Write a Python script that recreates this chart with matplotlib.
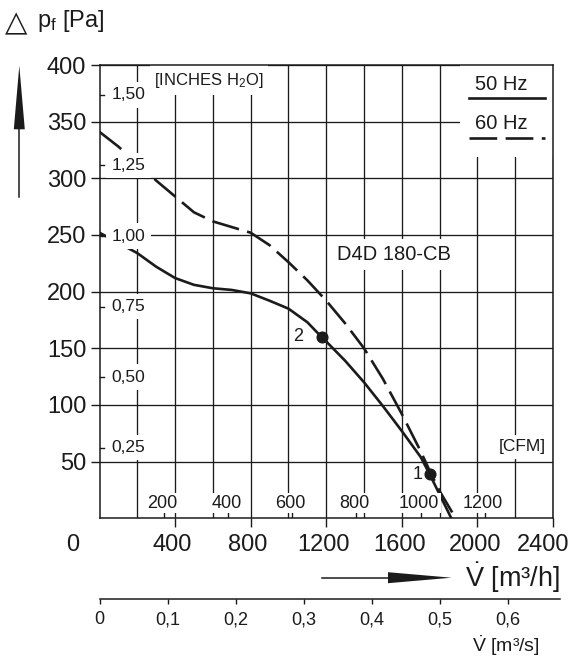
import matplotlib
matplotlib.use("Agg")
import matplotlib.pyplot as plt
import matplotlib.transforms as mtransforms
from matplotlib.patches import Rectangle, Polygon
from matplotlib.lines import Line2D

# ---------------- data ----------------
# 50 Hz characteristic (solid): volume flow [m3/h] vs pressure [Pa]
flow_50 = [0, 100, 200, 300, 400, 500, 600, 700, 800, 900, 1000, 1100,
           1175, 1200, 1300, 1400, 1500, 1600, 1700, 1747, 1800, 1862]
pres_50 = [252, 243, 234, 222, 212, 206, 203, 201.5, 198.5, 192, 185, 173,
           160, 156, 139, 120, 99, 77, 54, 39, 21, 0]
# 60 Hz characteristic (dashed)
flow_60 = [0, 100, 200, 300, 400, 500, 600, 700, 800, 900, 1000, 1100, 1200,
           1300, 1400, 1500, 1600, 1700, 1747, 1800, 1885]
pres_60 = [341, 328, 313, 298, 284, 270, 262, 257, 252, 241, 226, 210, 192,
           172, 150, 123, 92, 59, 42, 24, 0]
# operating points
point_labels = ["1", "2"]
point_flow = [1747, 1175]
point_pres = [39, 160]

flow_major = [400, 800, 1200, 1600, 2000, 2400]
flow_minor = [200, 600, 1000, 1400, 1800, 2200]
pres_ticks = [50, 100, 150, 200, 250, 300, 350, 400]
inch_ticks = [0.25, 0.50, 0.75, 1.00, 1.25, 1.50]
cfm_ticks = [200, 400, 600, 800, 1000, 1200]
m3s_ticks = [0, 0.1, 0.2, 0.3, 0.4, 0.5, 0.6]

PA_PER_INH2O = 249.089
M3H_PER_CFM = 1.69901

# ---------------- style ----------------
plt.rcParams["font.family"] = ["Liberation Sans", "DejaVu Sans"]
plt.rcParams["mathtext.fontset"] = "custom"
plt.rcParams["mathtext.rm"] = "Liberation Sans"
plt.rcParams["mathtext.it"] = "Liberation Sans:italic"
plt.rcParams["mathtext.bf"] = "Liberation Sans:bold"

INK = "#1b1b1b"
W, H = 578, 660
fig = plt.figure(figsize=(W / 100, H / 100), dpi=100)
fig.patch.set_facecolor("white")


def fx(px):
    return px / W


def fy(py):
    return 1 - py / H


AX_L, AX_R, AX_T, AX_B = 99.5, 553.0, 65.0, 518.3
AW, AH = AX_R - AX_L, AX_B - AX_T
ax = fig.add_axes([fx(AX_L), fy(AX_B), AW / W, AH / H])
ax.set_xlim(0, 2400)
ax.set_ylim(0, 400)
for s in ax.spines.values():
    s.set_linewidth(1.1)
    s.set_color(INK)
    s.set_zorder(6)

ax.set_xticks(flow_major)
ax.set_xticklabels([str(v) for v in flow_major])
ax.set_xticks(flow_minor, minor=True)
ax.set_yticks(pres_ticks)
ax.set_yticklabels([str(v) for v in pres_ticks])
ax.tick_params(which="major", direction="out", length=6.5, width=1.0,
               color=INK, labelsize=17, labelcolor=INK)
ax.tick_params(axis="x", which="major", pad=5)
ax.tick_params(axis="y", which="major", pad=3)
ax.tick_params(which="minor", length=0)
ax.grid(True, which="both", color=INK, linewidth=0.95)
ax.set_axisbelow(True)

# small leftward nudge of the flow tick labels (last one sits inside the page)
xlabels = ax.get_xticklabels()
for i, lab in enumerate(xlabels):
    shift = -10 if i == len(xlabels) - 1 else -2.5
    lab.set_transform(lab.get_transform() +
                      mtransforms.ScaledTranslation(shift / 100, 0,
                                                    fig.dpi_scale_trans))

# white blocks that interrupt the grid (legend area, inches title)
ax.add_patch(Rectangle((1906, 319), 494, 81, facecolor="white",
                       edgecolor="none", zorder=1))
ax.add_patch(Rectangle((267, 373.5), 624, 26.5, facecolor="white",
                       edgecolor="none", zorder=1))

# curves
ax.plot(flow_50, pres_50, color=INK, lw=1.9, zorder=3,
        solid_capstyle="butt", solid_joinstyle="round")
ax.plot(flow_60, pres_60, color=INK, lw=1.9, zorder=3,
        dashes=(10.5, 3.2), dash_capstyle="butt")
ax.plot(point_flow, point_pres, "o", color=INK, ms=7.7, zorder=4)
label_offsets = [-8.5, -17]
for lab, fxv, pyv, off in zip(point_labels, point_flow, point_pres,
                              label_offsets):
    ax.annotate(lab, (fxv, pyv), xytext=(off, 0), textcoords="offset points",
                ha="center", va="center", fontsize=13, color=INK, zorder=5)

# inches H2O scale inside left axis
trans_y = mtransforms.blended_transform_factory(ax.transAxes, ax.transData)
for v in inch_ticks:
    y = v * PA_PER_INH2O
    ax.plot([0, 4.5 / AW], [y, y], color=INK, lw=1.0,
            transform=trans_y, zorder=7, clip_on=False)
    ax.text(12.2 / AW, y, f"{v:.2f}".replace(".", ","),
            transform=trans_y, ha="left", va="center", fontsize=12.5,
            color=INK, zorder=5,
            bbox=dict(boxstyle="square,pad=0.3", facecolor="white",
                      edgecolor="none"))
ax.text((208.5 - AX_L) / AW, (AX_B - 80.5) / AH,
        r"[INCHES H$_\mathregular{2}$O]", transform=ax.transAxes,
        ha="center", va="center", fontsize=12, color=INK, zorder=5)

# CFM scale along the bottom
for c in cfm_ticks:
    x = c * M3H_PER_CFM
    ax.plot([x, x], [0, 5.3], color=INK, lw=1.0, zorder=2)
    ax.text(x - 8, 13.3, str(c), ha="center", va="center", fontsize=13,
            color=INK, zorder=5,
            bbox=dict(boxstyle="square,pad=0.08", facecolor="white",
                      edgecolor="none"))
ax.text(2236, 63, "[CFM]", ha="center", va="center", fontsize=12.5,
        color=INK, zorder=5,
        bbox=dict(boxstyle="square,pad=0.25", facecolor="white",
                  edgecolor="none"))
ax.text(1560, 233, "D4D 180-CB", ha="center", va="center", fontsize=14.5,
        color=INK, zorder=5,
        bbox=dict(boxstyle="square,pad=0.3", facecolor="white",
                  edgecolor="none"))

# legend (text above line samples)
ax.text(2125, 383, "50 Hz", ha="center", va="center", fontsize=14.5,
        color=INK, zorder=5)
ax.text(2125, 348.5, "60 Hz", ha="center", va="center", fontsize=14.5,
        color=INK, zorder=5)
ax.add_line(Line2D([(469 - AX_L) / AW, (545 - AX_L) / AW],
                   [(AX_B - 98.3) / AH] * 2, transform=ax.transAxes,
                   color=INK, lw=1.9, zorder=5))
ax.add_line(Line2D([(469 - AX_L) / AW, (545 - AX_L) / AW],
                   [(AX_B - 138.3) / AH] * 2, transform=ax.transAxes,
                   color=INK, lw=1.9, zorder=5, dashes=(10.5, 3.2),
                   dash_capstyle="butt"))

# ---------------- secondary m3/s axis ----------------
S_R = 560.0
ax2 = fig.add_axes([fx(AX_L), fy(599), (S_R - AX_L) / W, 1e-4])
ax2.set_xlim(0, 2400 * (S_R - AX_L) / AW / 3600)
ax2.set_ylim(0, 1)
ax2.patch.set_visible(False)
for k in ("top", "left", "right"):
    ax2.spines[k].set_visible(False)
ax2.spines["bottom"].set_linewidth(1.1)
ax2.spines["bottom"].set_color(INK)
ax2.set_yticks([])
ax2.set_xticks(m3s_ticks)
ax2.set_xticklabels(["0" if v == 0 else f"{v:.1f}".replace(".", ",")
                     for v in m3s_ticks])
ax2.tick_params(axis="x", direction="out", length=3.8, width=1.0, color=INK,
                labelsize=13, labelcolor=INK, pad=5)

# ---------------- free texts & arrows ----------------
fig.text(fx(73), fy(545), "0", ha="center", va="center", fontsize=17, color=INK)
fig.text(fx(5), fy(31), "\u25B3", ha="left", va="baseline", fontsize=21,
         color=INK, family="DejaVu Sans")
fig.text(fx(37), fy(27), r"$\mathregular{p}_\mathregular{f}$ [Pa]", ha="left",
         va="baseline", fontsize=17, color=INK)
fig.text(fx(560), fy(578), r"$\dot{\mathregular{V}}$ [m³/h]", ha="right",
         va="center", fontsize=19.5, color=INK)
fig.text(fx(540), fy(646), r"$\dot{\mathregular{V}}$ [m³/s]", ha="right",
         va="center", fontsize=14, color=INK)

# vertical arrow (pressure)
fig.add_artist(Line2D([fx(19.3), fx(19.3)], [fy(196.7), fy(120)],
                      color=INK, lw=1.1))
fig.add_artist(Polygon([(fx(19.3), fy(65.7)), (fx(13.8), fy(129.3)),
                        (fx(24.8), fy(129.3))], closed=True,
                       facecolor=INK, edgecolor="none"))
# horizontal arrow (flow)
fig.add_artist(Line2D([fx(321.5), fx(395)], [fy(577.7), fy(577.7)],
                      color=INK, lw=1.1))
fig.add_artist(Polygon([(fx(451.6), fy(577.7)), (fx(388), fy(572.2)),
                        (fx(388), fy(583.2))], closed=True,
                       facecolor=INK, edgecolor="none"))

fig.savefig("out.png", dpi=100)
